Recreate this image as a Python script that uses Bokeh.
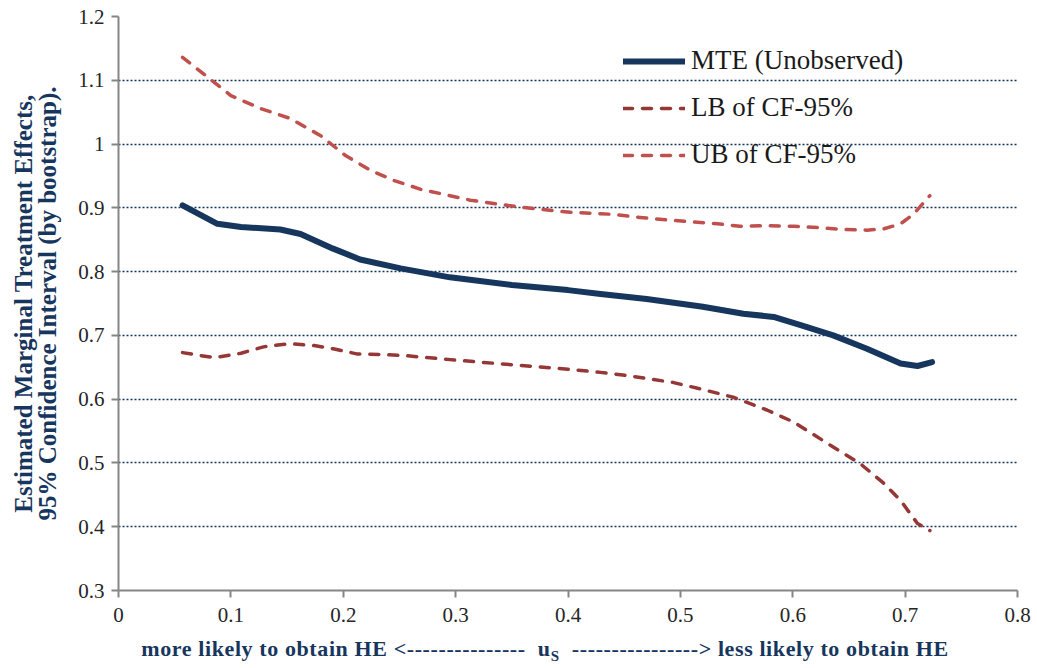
from bokeh.plotting import figure
from bokeh.models import Range1d, Legend, LegendItem, FixedTicker, Div
from bokeh.layouts import column
from bokeh.embed import file_html
from bokeh.resources import INLINE

# Propensity-score grid and estimated curves
u_mte = [0.057, 0.088, 0.109, 0.144, 0.162, 0.191, 0.215, 0.251, 0.295, 0.35, 0.40,
         0.429, 0.47, 0.52, 0.556, 0.583, 0.607, 0.636, 0.666, 0.696, 0.711, 0.724]
mte = [0.904, 0.875, 0.870, 0.866, 0.859, 0.836, 0.819, 0.805, 0.791, 0.779, 0.771,
       0.765, 0.757, 0.745, 0.734, 0.729, 0.716, 0.700, 0.679, 0.656, 0.652, 0.658]

u_lb = [0.057, 0.085, 0.109, 0.129, 0.152, 0.174, 0.191, 0.212, 0.236, 0.257, 0.295,
        0.35, 0.40, 0.429, 0.453, 0.494, 0.518, 0.547, 0.577, 0.601, 0.636, 0.660,
        0.681, 0.696, 0.711, 0.722]
lb = [0.673, 0.665, 0.672, 0.682, 0.687, 0.684, 0.679, 0.671, 0.670, 0.668, 0.662,
      0.654, 0.647, 0.642, 0.637, 0.626, 0.616, 0.603, 0.583, 0.564, 0.525, 0.499,
      0.468, 0.441, 0.405, 0.394]

u_ub = [0.057, 0.10, 0.126, 0.153, 0.18, 0.202, 0.224, 0.245, 0.269, 0.295, 0.313,
        0.358, 0.402, 0.438, 0.464, 0.488, 0.533, 0.553, 0.577, 0.601, 0.622, 0.645,
        0.666, 0.681, 0.696, 0.708, 0.722]
ub = [1.136, 1.076, 1.056, 1.040, 1.013, 0.982, 0.959, 0.943, 0.929, 0.919, 0.912,
      0.901, 0.893, 0.890, 0.885, 0.881, 0.875, 0.871, 0.872, 0.871, 0.869, 0.866,
      0.865, 0.867, 0.875, 0.891, 0.919]

x_ticks = [0, 0.1, 0.2, 0.3, 0.4, 0.5, 0.6, 0.7, 0.8]
y_ticks = [0.3, 0.4, 0.5, 0.6, 0.7, 0.8, 0.9, 1.0, 1.1, 1.2]
x_tick_labels = {0: "0", 0.1: "0.1", 0.2: "0.2", 0.3: "0.3", 0.4: "0.4", 0.5: "0.5",
                 0.6: "0.6", 0.7: "0.7", 0.8: "0.8"}
y_tick_labels = {0.3: "0.3", 0.4: "0.4", 0.5: "0.5", 0.6: "0.6", 0.7: "0.7", 0.8: "0.8",
                 0.9: "0.9", 1.0: "1", 1.1: "1.1", 1.2: "1.2"}

NAVY = "#17365D"
LB_RED = "#953735"
UB_RED = "#C0504D"
AXIS_GREY = "#868686"
SERIF = "Liberation Serif"

W, H = 1037, 668
TITLE_H = 36

p = figure(width=W, height=H - TITLE_H, output_backend="svg", toolbar_location=None,
           x_range=Range1d(0, 0.8), y_range=Range1d(0.3, 1.2),
           min_border_left=118, min_border_right=20, min_border_top=16,
           min_border_bottom=42, margin=0)
p.outline_line_color = None
p.background_fill_color = "white"
p.border_fill_color = "white"

# Dotted horizontal gridlines only
p.xgrid.grid_line_color = None
p.ygrid.grid_line_color = NAVY
p.ygrid.grid_line_dash = "2 2"
p.ygrid.grid_line_width = 1.5
p.ygrid.ticker = FixedTicker(ticks=y_ticks[1:])

for ax, ticks, labels in ((p.xaxis[0], x_ticks, x_tick_labels),
                          (p.yaxis[0], y_ticks, y_tick_labels)):
    ax.ticker = FixedTicker(ticks=ticks)
    ax.major_label_overrides = labels
    ax.axis_line_color = AXIS_GREY
    ax.axis_line_width = 2
    ax.major_tick_line_color = AXIS_GREY
    ax.major_tick_line_width = 2
    ax.major_tick_out = 7
    ax.major_tick_in = 0
    ax.minor_tick_line_color = None
    ax.major_label_text_font = SERIF
    ax.major_label_text_font_size = "21px"
    ax.major_label_text_color = "#262626"
p.xaxis.major_label_standoff = 10
p.yaxis.major_label_standoff = 7

# two-line y-axis title
p.yaxis.axis_label = "Estimated Marginal Treatment Effects,\n95% Confidence Interval (by bootstrap)."
p.yaxis.axis_label_text_font = SERIF
p.yaxis.axis_label_text_font_style = "bold"
p.yaxis.axis_label_text_font_size = "25px"
p.yaxis.axis_label_text_color = NAVY
p.yaxis.axis_label_text_line_height = 0.9
p.yaxis.axis_label_standoff = 14

r_mte = p.line(u_mte, mte, line_color=NAVY, line_width=6, line_cap="round",
               line_join="round")
r_lb = p.line(u_lb, lb, line_color=LB_RED, line_width=3.5, line_dash="9 10",
              line_cap="round", line_join="round")
r_ub = p.line(u_ub, ub, line_color=UB_RED, line_width=3.5, line_dash="9 10",
              line_cap="round", line_join="round")

legend = Legend(items=[LegendItem(label="MTE (Unobserved)", renderers=[r_mte]),
                       LegendItem(label="LB of CF-95%", renderers=[r_lb]),
                       LegendItem(label="UB of CF-95%", renderers=[r_ub])],
                location=(505, 420), orientation="vertical")
legend.border_line_color = None
legend.background_fill_alpha = 0
legend.padding = 0
legend.margin = 0
legend.spacing = 16
legend.glyph_width = 62
legend.glyph_height = 26
legend.label_height = 26
legend.label_standoff = 6
legend.label_text_font = SERIF
legend.label_text_font_size = "27px"
legend.label_text_color = "#1a1a1a"
p.add_layout(legend, "center")

# x-axis title with subscripted u_S, set as HTML beneath the plot
x_title = Div(
    text=(f'<div style="width:{W}px;box-sizing:border-box;padding-left:53px;'
          f'padding-top:4px;text-align:center;font-family:\'{SERIF}\';font-weight:bold;'
          f'font-size:22px;letter-spacing:0.6px;line-height:26px;color:{NAVY};'
          'white-space:nowrap;">'
          'more likely to obtain HE &lt;---------------&nbsp;&nbsp;u<sub style="font-size:15px;">S</sub>'
          '&nbsp;&nbsp;----------------&gt; less likely to obtain HE</div>'),
    width=W, height=TITLE_H, margin=0)

layout = column(p, x_title, spacing=0, margin=0)
open("out.html", "w").write(file_html(layout, INLINE))
